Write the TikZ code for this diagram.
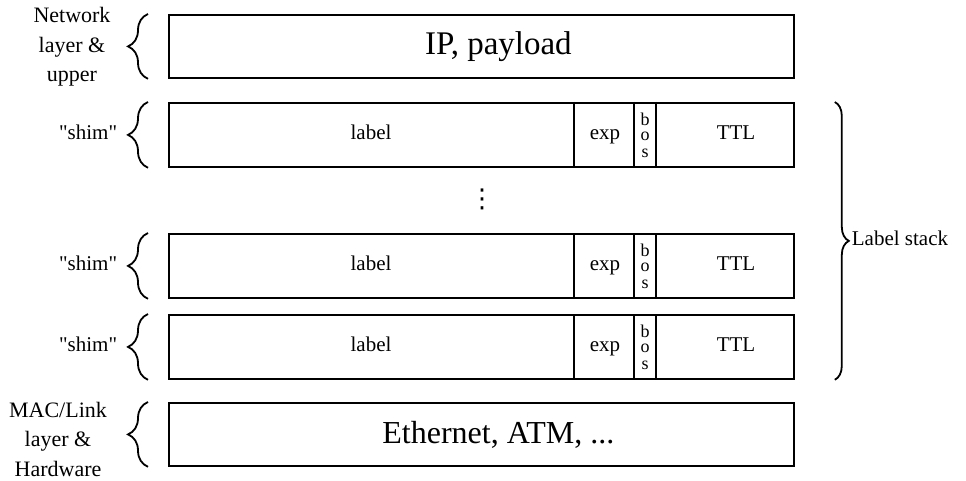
\documentclass[tikz,border=0pt]{standalone}
\usepackage{fontspec}
\setmainfont{Liberation Serif}
\newfontfamily\plainserif{Liberation Serif}
\newfontfamily\dejavu{DejaVu Sans}
\usetikzlibrary{decorations.pathreplacing}
\begin{document}
\begin{tikzpicture}[x=1pt,y=-1pt,line width=1.8pt,
  bigbox/.style={draw,rectangle,anchor=north west,minimum width=625pt,minimum height=63pt,inner sep=0pt},
  bigtext/.style={inner sep=0pt,font=\fontsize{33}{38}\selectfont},
  stackbox/.style={draw,rectangle,anchor=north west,minimum width=625pt,minimum height=64pt,inner sep=0pt},
  fld/.style={inner sep=0pt,text height=10pt,text depth=0pt,font=\fontsize{21}{25}\selectfont},
  bosfld/.style={inner sep=0pt,font=\fontsize{18}{17}\selectfont},
  side/.style={inner sep=0pt,align=center,font=\fontsize{22}{29.5}\selectfont},
  dotfld/.style={inner sep=0pt,font=\dejavu\fontsize{26}{30}\selectfont},
  lbrace/.style={decorate,decoration={brace,amplitude=20pt}},
  rbrace/.style={decorate,decoration={brace,amplitude=14pt}}]
\useasboundingbox (0,0) rectangle (966,481);

% top and bottom boxes
\node[bigbox] (ip) at (168,14) {};
\node[bigtext] (iptext) at ([xshift=17pt]ip.center) {IP, payload};
\node[bigbox] (eth) at (168,402) {};
\node[bigtext,font=\fontsize{32}{38}\selectfont] (ethtext) at ([xshift=17pt]eth.center) {Ethernet, ATM, ...};

% label stack rows
\foreach \n/\t in {r1/102, r2/233, r3/314} {
  \node[stackbox] (\n) at (168,\t) {};
  \draw ([xshift=406pt]\n.north west) -- ([xshift=406pt]\n.south west);
  \draw ([xshift=466pt]\n.north west) -- ([xshift=466pt]\n.south west);
  \draw ([xshift=488pt]\n.north west) -- ([xshift=488pt]\n.south west);
  \node[fld] (\n-label) at ([xshift=203pt]\n.west) {label};
  \node[fld] (\n-exp) at ([xshift=437pt]\n.west) {exp};
  \node[bosfld] (\n-b) at ([xshift=477pt,yshift=16pt]\n.west) {b};
  \node[bosfld] (\n-o) at ([xshift=477pt,yshift=-1pt]\n.west) {o};
  \node[bosfld] (\n-s) at ([xshift=477pt,yshift=-18pt]\n.west) {s};
  \node[fld] (\n-ttl) at ([xshift=568pt]\n.west) {TTL};
  \draw[lbrace] ([xshift=-20pt]\n.south west) -- ([xshift=-20pt]\n.north west);
  \node[fld,anchor=east] (\n-shim) at ([xshift=-50pt]\n.west) {\plainserif "shim"};
}

% ellipsis between rows
\node[dotfld] (dots) at (482,199) {⋮};

% left braces and side labels for top/bottom
\draw[lbrace] ([xshift=-20pt]ip.south west) -- ([xshift=-20pt]ip.north west);
\node[side] (netlbl) at (72,47) {Network\\layer \&\\upper};
\draw[lbrace] ([xshift=-20pt]eth.south west) -- ([xshift=-20pt]eth.north west);
\node[side] (maclbl) at (58,439) {MAC/Link\\layer \&\\Hardware};

% right brace
\draw[rbrace] ([xshift=40pt]r1.north east) -- ([xshift=40pt]r3.south east);
\node[fld,anchor=west] (lstack) at (851,240) {Label stack};
\end{tikzpicture}
\end{document}
